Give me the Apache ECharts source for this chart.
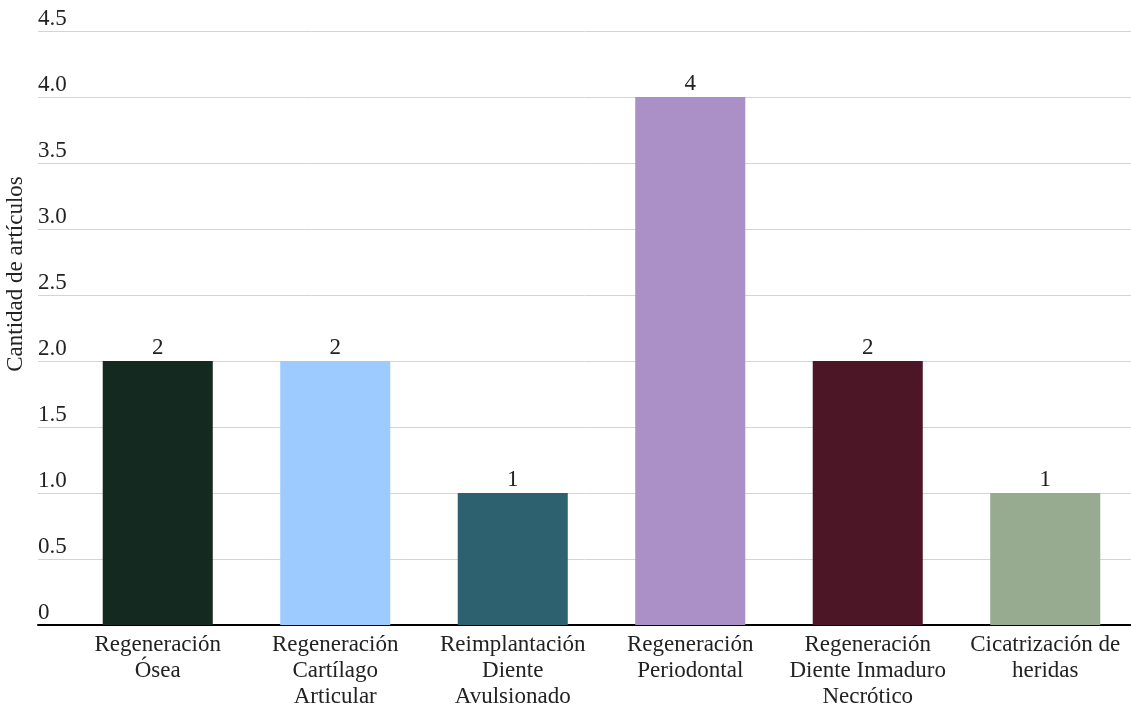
<!DOCTYPE html>
<html>
<head>
<meta charset="utf-8">
<script src="https://cdn.jsdelivr.net/npm/echarts@6/dist/echarts.min.js"></script>
<style>
  html, body { margin: 0; padding: 0; background: #fff; }
  #main { width: 1131px; height: 711px; }
</style>
</head>
<body>
<div id="main"></div>
<script>
// categorias y valores
var categorias = ['Regeneración\nÓsea', 'Regeneración\nCartílago\nArticular', 'Reimplantación\nDiente\nAvulsionado', 'Regeneración\nPeriodontal', 'Regeneración\nDiente Inmaduro\nNecrótico', 'Cicatrización de\nheridas'];
var valores = [2, 2, 1, 4, 2, 1];
var colores = ['#142a21', '#9ecbff', '#2e6170', '#aa90c7', '#4c1626', '#97ab91'];

var fuente = '"Liberation Serif", "DejaVu Serif", serif';
var myChart = echarts.init(document.getElementById('main'));

var option = {
  animation: false,
  textStyle: { fontFamily: fuente },
  grid: [
    { left: 69, right: -3, top: 31, bottom: 86, containLabel: false, outerBoundsMode: 'none' },   // barras
    { left: 38, right: 0, top: 31, bottom: 86, containLabel: false, outerBoundsMode: 'none' }     // lineas y etiquetas
  ],
  xAxis: [
    {
      type: 'category', gridIndex: 0, data: categorias,
      axisLine: { show: false }, axisTick: { show: false },
      axisLabel: { interval: 0, color: '#222', fontSize: 23, fontFamily: fuente, lineHeight: 26, margin: 7 }
    },
    {
      type: 'category', gridIndex: 1, data: [],
      axisLine: { show: true, lineStyle: { color: '#000', width: 2 } },
      axisTick: { show: false }, axisLabel: { show: false }
    }
  ],
  yAxis: [
    {
      type: 'value', gridIndex: 0, min: 0, max: 4.5, interval: 0.5,
      axisLine: { show: false }, axisTick: { show: false },
      axisLabel: { show: false }, splitLine: { show: false }
    },
    {
      type: 'value', gridIndex: 1, min: 0, max: 4.5, interval: 0.5,
      name: 'Cantidad de artículos', nameLocation: 'middle', nameGap: 3,
      nameTextStyle: { fontSize: 23, color: '#222', fontFamily: fuente, padding: [0, 0, 0, 108] },
      axisLine: { show: false }, axisTick: { show: false },
      axisLabel: {
        inside: true, margin: 0, color: '#222', fontSize: 23, fontFamily: fuente,
        verticalAlign: 'bottom', padding: [0, 0, 1, 0],
        formatter: function (v) { return v === 0 ? '0' : v.toFixed(1); }
      },
      splitLine: { lineStyle: { color: '#d4d4d4', width: 1 } }
    }
  ],
  series: [{
    type: 'bar',
    xAxisIndex: 0, yAxisIndex: 0,
    barWidth: '62%',
    data: valores.map(function (v, i) {
      return { value: v, itemStyle: { color: colores[i] } };
    }),
    label: { show: true, position: 'top', distance: 2, color: '#222', fontSize: 23, fontFamily: fuente },
    z: 3
  }]
};
myChart.setOption(option);
</script>
</body>
</html>
